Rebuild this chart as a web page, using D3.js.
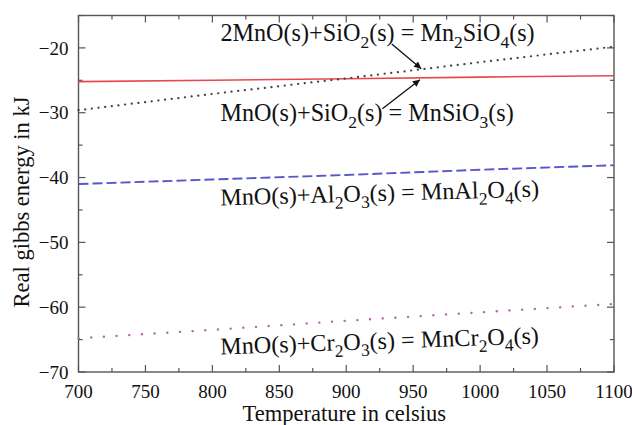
<!DOCTYPE html>
<html>
<head>
<meta charset="utf-8">
<script src="https://cdn.jsdelivr.net/npm/d3@7"></script>
<style>
  body { margin: 0; background: #fff; }
  svg text { font-family: "Liberation Serif", "Times New Roman", serif; fill: #111; }
</style>
</head>
<body>
<svg id="chart" width="632" height="425"></svg>
<script>
// temperatures (celsius) at which the curves were read
const temps = [700, 800, 900, 1000, 1100];
// real gibbs energy in kJ, one array per reaction
const mn2sio4 = [-29.6, -27.1, -24.7, -22.2, -19.8];
const mnsio3 = [-25.2, -25.0, -24.75, -24.5, -24.3];
const mnal2o4 = [-41.0, -40.3, -39.6, -38.8, -38.1];
const mncr2o4 = [-64.8, -63.5, -62.1, -60.8, -59.5];

const xTicks = [700, 750, 800, 850, 900, 950, 1000, 1050, 1100];
const yTicks = [-70, -60, -50, -40, -30, -20];

// reaction labels, "_" marks a subscript digit; pos = [temp, energy] of text start
const labels = [
  {text: '2MnO(s)+SiO_2(s) = Mn_2SiO_4(s)', pos: [806, -19.0], rot: 0},
  {text: 'MnO(s)+SiO_2(s) = MnSiO_3(s)', pos: [806, -31.3], rot: 0},
  {text: 'MnO(s)+Al_2O_3(s) = MnAl_2O_4(s)', pos: [806, -44.3], rot: -1.6},
  {text: 'MnO(s)+Cr_2O_3(s) = MnCr_2O_4(s)', pos: [806, -67.3], rot: -2}
];
// arrows from label to curve: [from, to] in data units
const arrows = [
  [[934, -19.4], [956, -23.2]],
  [[927, -29.4], [955, -24.9]]
];

const W = 632, H = 425;
const margin = {top: 15.5, right: 18, bottom: 53, left: 78.5};
const svg = d3.select('#chart');

const x = d3.scaleLinear().domain([700, 1100]).range([margin.left, W - margin.right]);
const y = d3.scaleLinear().domain([-70, -15]).range([H - margin.bottom, margin.top]);

const axisColor = '#555';

// frame
svg.append('rect')
  .attr('x', x(700)).attr('y', y(-15))
  .attr('width', x(1100) - x(700)).attr('height', y(-70) - y(-15))
  .attr('fill', 'none').attr('stroke', axisColor).attr('stroke-width', 1.4);

// inward ticks on all four sides, minor ticks every half step
const xMinor = d3.range(700, 1101, 25);
const yMinor = d3.range(-70, -14, 5);
const tickG = svg.append('g').attr('stroke', axisColor).attr('stroke-width', 1.2);
xMinor.forEach(v => {
  const len = v % 50 === 0 ? 7 : 4;
  tickG.append('line').attr('x1', x(v)).attr('x2', x(v)).attr('y1', y(-70)).attr('y2', y(-70) - len);
  tickG.append('line').attr('x1', x(v)).attr('x2', x(v)).attr('y1', y(-15)).attr('y2', y(-15) + len);
});
yMinor.forEach(v => {
  const len = v % 10 === 0 ? 7 : 4;
  tickG.append('line').attr('y1', y(v)).attr('y2', y(v)).attr('x1', x(700)).attr('x2', x(700) + len);
  tickG.append('line').attr('y1', y(v)).attr('y2', y(v)).attr('x1', x(1100)).attr('x2', x(1100) - len);
});

// tick labels
svg.append('g').selectAll('text')
  .data(xTicks).enter().append('text')
  .attr('x', d => x(d)).attr('y', y(-70) + 26)
  .attr('text-anchor', 'middle').attr('font-size', 19)
  .text(d => d);
svg.append('g').selectAll('text')
  .data(yTicks).enter().append('text')
  .attr('x', x(700) - 10).attr('y', d => y(d)).attr('dy', '0.35em')
  .attr('text-anchor', 'end').attr('font-size', 19)
  .text(d => '\u2212' + Math.abs(d));

// axis titles
svg.append('text')
  .attr('x', (x(700) + x(1100)) / 2 - 2).attr('y', 421)
  .attr('text-anchor', 'middle').attr('font-size', 22.5)
  .text('Temperature in celsius');
svg.append('text')
  .attr('transform', `translate(29,202) rotate(-90)`)
  .attr('text-anchor', 'middle').attr('font-size', 22.5)
  .text('Real gibbs energy in kJ');

// curves
const line = d3.line().x(d => x(d[0])).y(d => y(d[1]));
const series = [
  {vals: mnsio3, color: '#e8484c', width: 1.6, dash: null, cap: 'butt'},
  {vals: mn2sio4, color: '#444', width: 2.2, dash: '0.1,6.6', cap: 'round'},
  {vals: mnal2o4, color: '#5858c8', width: 1.9, dash: '10,4', cap: 'butt'},
  {vals: mncr2o4, color: '#b068b0', width: 2.4, dash: '0.1,12.6', cap: 'round'}
];
const plot = svg.append('g');
series.forEach(s => {
  plot.append('path')
    .datum(temps.map((t, i) => [t, s.vals[i]]))
    .attr('d', line)
    .attr('fill', 'none')
    .attr('stroke', s.color)
    .attr('stroke-width', s.width)
    .attr('stroke-linecap', s.cap)
    .attr('stroke-dasharray', s.dash);
});

// reaction labels with subscripts
labels.forEach(l => {
  const px = x(l.pos[0]), py = y(l.pos[1]);
  const t = svg.append('text')
    .attr('font-size', 24.2)
    .attr('transform', `translate(${px},${py}) rotate(${l.rot})`);
  const parts = l.text.split(/(_\d)/).filter(p => p.length);
  let down = false;
  parts.forEach(p => {
    if (p[0] === '_') {
      t.append('tspan').attr('font-size', 17.5).attr('dy', 6.5).text(p.slice(1));
      down = true;
    } else {
      t.append('tspan').attr('dy', down ? -6.5 : 0).text(p);
      down = false;
    }
  });
});

// arrows
svg.append('defs').append('marker')
  .attr('id', 'head').attr('viewBox', '0 0 10 10')
  .attr('refX', 10).attr('refY', 5)
  .attr('markerWidth', 10).attr('markerHeight', 7)
  .attr('markerUnits', 'userSpaceOnUse')
  .attr('orient', 'auto')
  .append('path').attr('d', 'M0,0L10,5L0,10Z').attr('fill', '#111');
arrows.forEach(a => {
  svg.append('line')
    .attr('x1', x(a[0][0])).attr('y1', y(a[0][1]))
    .attr('x2', x(a[1][0])).attr('y2', y(a[1][1]))
    .attr('stroke', '#111').attr('stroke-width', 1.3)
    .attr('marker-end', 'url(#head)');
});
</script>
</body>
</html>
